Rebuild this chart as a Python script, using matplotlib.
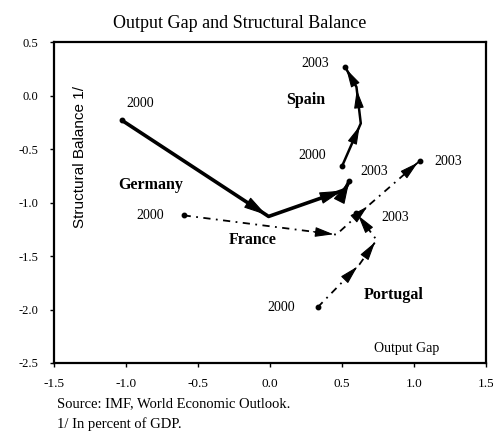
import matplotlib
matplotlib.use("Agg")
import matplotlib.pyplot as plt
import numpy as np

# Output gap (x) and structural balance (y), 2000-2003
germany_x = [-1.03, -0.01, 0.52, 0.55]
germany_y = [-0.23, -1.13, -0.88, -0.80]
spain_x = [0.50, 0.63, 0.60, 0.52]
spain_y = [-0.66, -0.26, 0.08, 0.27]
france_x = [-0.60, 0.46, 0.69, 1.04]
france_y = [-1.12, -1.30, -1.02, -0.61]
portugal_x = [0.33, 0.62, 0.74, 0.60]
portugal_y = [-1.98, -1.58, -1.35, -1.10]

x_ticks = [-1.5, -1.0, -0.5, 0.0, 0.5, 1.0, 1.5]
y_ticks = [0.5, 0.0, -0.5, -1.0, -1.5, -2.0, -2.5]

SERIF = "Liberation Serif"
plt.rcParams["font.family"] = SERIF


def draw_path(ax, xs, ys, lw, ls, head):
    ax.plot(xs, ys, color="black", lw=lw, ls=ls, solid_capstyle="round")
    for i in range(1, len(xs)):
        x0, y0 = xs[i - 1], ys[i - 1]
        x1, y1 = xs[i], ys[i]
        # short solid stub so the head is not dashed
        sx = x1 - 0.15 * (x1 - x0)
        sy = y1 - 0.15 * (y1 - y0)
        ax.annotate("", xy=(x1, y1), xytext=(sx, sy),
                    arrowprops=dict(arrowstyle="-|>,head_length=0.6,head_width=0.16",
                                    color="black", lw=0.8,
                                    mutation_scale=head, shrinkA=0, shrinkB=2))
    ax.plot([xs[0], xs[-1]], [ys[0], ys[-1]], "o", color="black", ms=3.2)


fig = plt.figure(figsize=(4.93, 4.43), dpi=100)
ax = fig.add_axes([0.1095, 0.1806, 0.8765, 0.7244])

draw_path(ax, germany_x, germany_y, 2.6, "-", 24)
draw_path(ax, spain_x, spain_y, 1.8, "-", 19)
draw_path(ax, france_x, france_y, 1.3, (0, (4, 3, 1, 3)), 19)
draw_path(ax, portugal_x, portugal_y, 1.3, (0, (4, 3, 1, 3)), 19)

yr = dict(fontsize=10, ha="center", va="center", family=SERIF)
ax.text(-0.90, -0.07, "2000", **yr)
ax.text(-0.83, -1.12, "2000", **yr)
ax.text(0.29, -0.56, "2000", **yr)
ax.text(0.08, -1.98, "2000", **yr)
ax.text(0.31, 0.30, "2003", **yr)
ax.text(0.72, -0.71, "2003", **yr)
ax.text(1.24, -0.62, "2003", **yr)
ax.text(0.87, -1.14, "2003", **yr)

nm = dict(fontsize=11.5, ha="center", va="center", fontweight="bold", family=SERIF)
ax.text(-0.83, -0.84, "Germany", **nm)
ax.text(0.25, -0.04, "Spain", **nm)
ax.text(-0.12, -1.35, "France", **nm)
ax.text(0.86, -1.86, "Portugal", **nm)

ax.text(0.95, -2.36, "Output Gap", fontsize=10, ha="center", va="center")
ax.text(-1.32, -0.57, "Structural Balance 1/", rotation=90, fontsize=11,
        ha="center", va="center", family="Liberation Sans")

ax.set_xlim(-1.5, 1.5)
ax.set_ylim(-2.5, 0.5)
ax.set_xticks(x_ticks)
ax.set_yticks(y_ticks)
ax.set_xticklabels([f"{v:.1f}" for v in x_ticks], fontsize=9.5)
ax.set_yticklabels([f"{v:.1f}" for v in y_ticks], fontsize=9)
ax.tick_params(direction="out", length=3, width=1, pad=8)
for s in ax.spines.values():
    s.set_linewidth(1.6)

fig.text(0.487, 0.948, "Output Gap and Structural Balance", fontsize=13,
         ha="center", va="center")
fig.text(0.115, 0.088, "Source: IMF, World Economic Outlook.", fontsize=10.5,
         ha="left", va="center")
fig.text(0.115, 0.042, "1/ In percent of GDP.", fontsize=10.5,
         ha="left", va="center")

fig.savefig("out.png", dpi=100)
